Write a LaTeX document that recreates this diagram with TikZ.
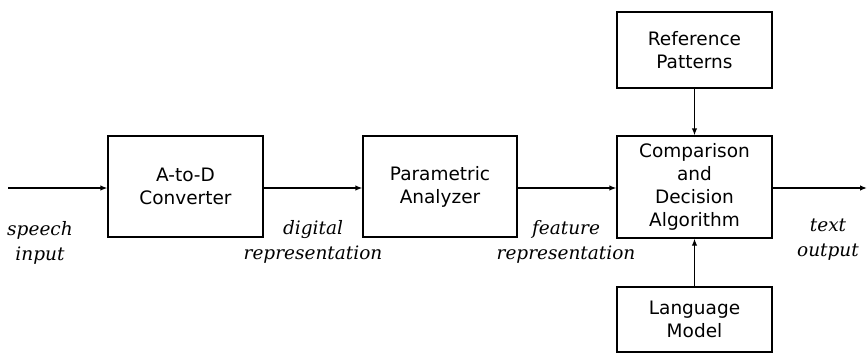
\documentclass[tikz,border=0pt]{standalone}
\usepackage{fontspec}
\setsansfont{DejaVu Sans}
\newfontfamily\labfont{DejaVu Serif}
\usetikzlibrary{arrows.meta}
\begin{document}
\begin{tikzpicture}[x=1pt,y=-1pt,
  blk/.style={draw,line width=1.3pt,inner sep=0pt,font=\sffamily\fontsize{18.5}{23}\selectfont,align=center},
  lab/.style={font=\labfont\itshape\fontsize{18.5}{25}\selectfont,align=center,inner sep=0pt},
  conn/.style={line width=1.3pt,-{Latex[length=7pt,width=5.5pt]}}]
\useasboundingbox (0,0) rectangle (868,364);
\node[blk,minimum width=155pt,minimum height=101pt] (ad) at (185.5,186.5) {A-to-D\\Converter};
\node[blk,minimum width=154pt,minimum height=101pt] (pa) at (440,186.5) {Parametric\\Analyzer};
\node[blk,minimum width=155pt,minimum height=102pt] (cd) at (694.5,187) {Comparison\\and\\Decision\\Algorithm};
\node[blk,minimum width=155pt,minimum height=76pt] (rp) at (694.5,50) {Reference\\Patterns};
\node[blk,minimum width=155pt,minimum height=65pt] (lm) at (694.5,319.5) {Language\\Model};
\coordinate (in) at (8,188);
\coordinate (out) at (867,188);
\draw[conn] (in) -- (ad.west |- in);
\draw[conn] (ad.east |- in) -- (pa.west |- in);
\draw[conn] (pa.east |- in) -- (cd.west |- in);
\draw[conn] (cd.east |- out) -- (out);
\draw[conn] (rp) -- (cd);
\draw[conn] (lm) -- (cd);
\node[lab] (l1) at (40,243) {speech\\input};
\node[lab] (l2) at (313,242) {digital\\representation};
\node[lab] (l3) at (566,242) {feature\\representation};
\node[lab] (l4) at (828,240) {text\\output};
\end{tikzpicture}
\end{document}
